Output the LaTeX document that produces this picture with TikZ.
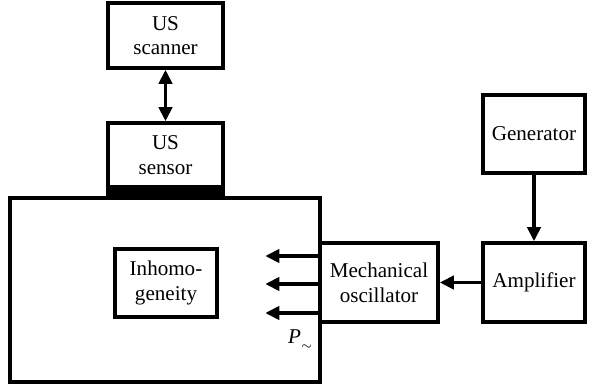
\documentclass[tikz,border=0pt]{standalone}
\usepackage{fontspec}
\setmainfont{Liberation Serif}
\usepackage{tikz}
\usetikzlibrary{arrows.meta}
\usetikzlibrary{calc}
\tikzset{blk/.style = {draw, line width = 2pt, align = center, inner sep = 0, font = \fontsize{12}{14}\selectfont}}
\tikzset{arr/.style = {line width = 2pt, -{Triangle[length = 8pt, width = 7.5pt]}}}
\tikzset{darr/.style = {line width = 2pt, {Triangle[length = 8pt, width = 7.5pt]}-{Triangle[length = 8pt, width = 7.5pt]}}}

\begin{document}
\begin{tikzpicture}[x = 0.02cm, y = -0.02cm]
      \useasboundingbox (0, 0) rectangle (595, 385);
      \node [blk, minimum width = 2.3cm, minimum height = 1.3cm] (scanner) at (165.5, 35.5) {US\\scanner};
      \node [blk, minimum width = 2.3cm, minimum height = 1.28cm] (sensor) at (165.5, 155) {US\\sensor};
      \node [blk, minimum width = 6.2cm, minimum height = 3.68cm] (body) at (165, 290) {};
      \fill (sensor.south west) rectangle (body.north -| sensor.east);
      \node [blk, minimum width = 2.04cm, minimum height = 1.36cm] (inhom) at (166, 283) {Inhomo-\\geneity};
      \node [blk, minimum width = 2.36cm, minimum height = 1.58cm] (osc) at (379, 282.5) {Mechanical\\oscillator};
      \node [blk, minimum width = 2.04cm, minimum height = 1.58cm] (amp) at (534, 282.5) {Amplifier};
      \node [blk, minimum width = 2.04cm, minimum height = 1.56cm] (gen) at (534, 134) {Generator};
      \node [anchor = north east, font = \fontsize{12}{14}\selectfont] (pres) at (osc.south west) {\textit{P}\raisebox{-0.6ex}{\scriptsize$\sim$}};
      \draw [darr] (scanner) -- (sensor);
      \draw [arr] (gen) -- (amp);
      \draw [arr] (amp) -- (osc);
      \foreach \dy in {-26.5, 1.5, 30.5}
        \draw [arr] ($(osc.west) + (0, \dy)$) -- ++(-53, 0);
    \end{tikzpicture}
\end{document}
